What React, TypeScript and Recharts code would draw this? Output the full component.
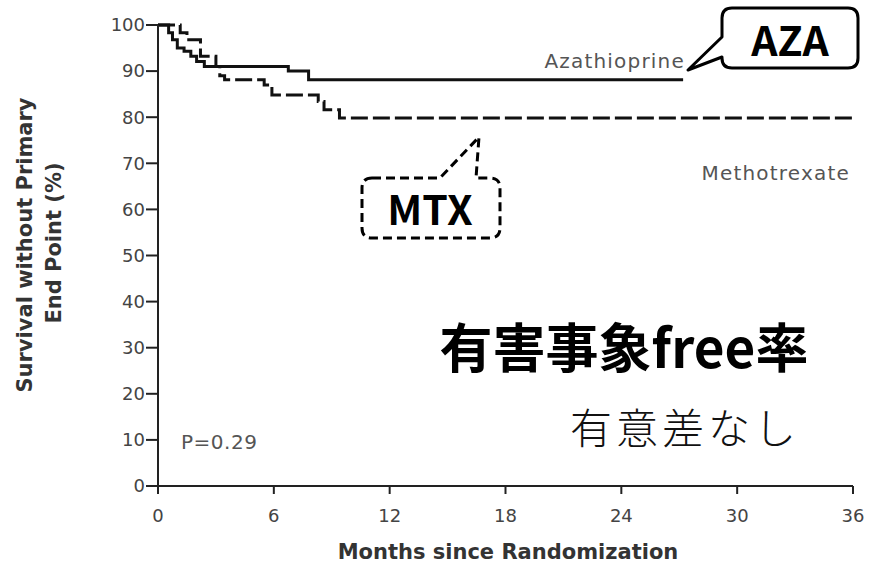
import React from 'react';
import { LineChart, Line, XAxis, YAxis } from 'recharts';

// Kaplan–Meier style step curves: survival without primary end point (%)
const monthTicks = [0, 6, 12, 18, 24, 30, 36];
const survivalTicks = [0, 10, 20, 30, 40, 50, 60, 70, 80, 90, 100];

const azaMonths = [0, 0.55, 0.75, 1.0, 1.35, 1.7, 2.0, 2.4, 6.75, 7.8, 27.2];
const azaSurvival = [100, 98.3, 96.8, 95.0, 94.3, 93.2, 92.1, 91.0, 90.0, 88.1, 88.1];

const mtxMonths = [0, 1.15, 1.5, 2.2, 3.0, 3.2, 3.45, 5.5, 5.9, 8.3, 8.6, 9.4, 36];
const mtxSurvival = [100, 98.3, 96.8, 93.2, 91.0, 89.0, 88.1, 87.0, 84.8, 83.4, 81.6, 79.8, 79.8];

const toSeries = (months: number[], values: number[]) =>
  months.map((m, i) => ({ month: m, survival: values[i] }));

const azaData = toSeries(azaMonths, azaSurvival);
const mtxData = toSeries(mtxMonths, mtxSurvival);

const W = 871;
const H = 577;
const sans = "'DejaVu Sans', 'Liberation Sans', sans-serif";
const cjk = "'Noto Sans CJK JP', 'Noto Sans', sans-serif";

export default function App() {
  return (
    <div style={{ position: 'absolute', left: 0, top: 0, width: W, height: H, background: '#fff' }}>
      <LineChart
        width={W}
        height={H}
        margin={{ top: 25, right: 18, bottom: 51, left: 98 }}
      >
        <XAxis
          type="number"
          dataKey="month"
          domain={[0, 36]}
          ticks={monthTicks}
          allowDuplicatedCategory={false}
          height={40}
          stroke="#222"
          strokeWidth={2}
          tickSize={8}
          tickMargin={15}
          tick={{ fill: '#444', fontSize: 18, fontFamily: sans }}
        />
        <YAxis
          type="number"
          domain={[0, 100]}
          ticks={survivalTicks}
          width={60}
          stroke="#222"
          strokeWidth={2}
          tickSize={12}
          tickMargin={1}
          tick={{ fill: '#444', fontSize: 18, fontFamily: sans }}
        />
        <Line
          data={azaData}
          dataKey="survival"
          type="stepAfter"
          stroke="#111"
          strokeWidth={3}
          dot={false}
          isAnimationActive={false}
        />
        <Line
          data={mtxData}
          dataKey="survival"
          type="stepAfter"
          stroke="#111"
          strokeWidth={3}
          strokeDasharray="17 5"
          dot={false}
          isAnimationActive={false}
        />
      </LineChart>

      <svg
        width={W}
        height={H}
        style={{ position: 'absolute', left: 0, top: 0, pointerEvents: 'none' }}
      >
        {/* axis titles */}
        <g fontFamily={sans} fontWeight={700} fill="#333" fontSize={21}>
          <text transform="translate(25,245) rotate(-90)" textAnchor="middle" dominantBaseline="central">
            Survival without Primary
          </text>
          <text transform="translate(54,243) rotate(-90)" textAnchor="middle" dominantBaseline="central">
            End Point (%)
          </text>
          <text x={508} y={552} textAnchor="middle" dominantBaseline="central">
            Months since Randomization
          </text>
        </g>

        {/* series labels and p-value */}
        <g fontFamily={sans} fill="#555" fontSize={20} letterSpacing={1.2}>
          <text x={685} y={61} textAnchor="end" dominantBaseline="central">Azathioprine</text>
          <text x={850} y={173} textAnchor="end" dominantBaseline="central">Methotrexate</text>
          <text x={181} y={442} textAnchor="start" dominantBaseline="central" letterSpacing={0.5}>P=0.29</text>
        </g>

        {/* AZA callout */}
        <path
          d="M 732 8 H 848 Q 858 8 858 18 V 58 Q 858 68 848 68 H 732 Q 722 68 722 58 V 57 L 688 70 L 722 37 V 18 Q 722 8 732 8 Z"
          fill="#fff"
          stroke="#000"
          strokeWidth={3}
          strokeLinejoin="round"
        />
        <text x={790} y={38} textAnchor="middle" dominantBaseline="central" fontFamily={cjk} fontWeight={700} fontSize={41} fill="#000">
          AZA
        </text>

        {/* MTX callout */}
        <path
          d="M 372 178 H 440 L 479 137 L 476 178 H 490 Q 500 178 500 188 V 228 Q 500 238 490 238 H 372 Q 362 238 362 228 V 188 Q 362 178 372 178 Z"
          fill="#fff"
          stroke="#000"
          strokeWidth={3}
          strokeDasharray="9 5"
          strokeLinejoin="round"
        />
        <text x={430} y={207} textAnchor="middle" dominantBaseline="central" fontFamily={cjk} fontWeight={700} fontSize={41} fill="#000">
          MTX
        </text>

        {/* summary */}
        <text x={624} y={345} textAnchor="middle" dominantBaseline="central" fontFamily={cjk} fontWeight={700} fontSize={53} fill="#000">
          有害事象free率
        </text>
        <text x={570} y={425} textAnchor="start" dominantBaseline="central" fontFamily={cjk} fontWeight={300} fontSize={42} letterSpacing={4} fill="#111">
          有意差なし
        </text>
      </svg>
    </div>
  );
}
